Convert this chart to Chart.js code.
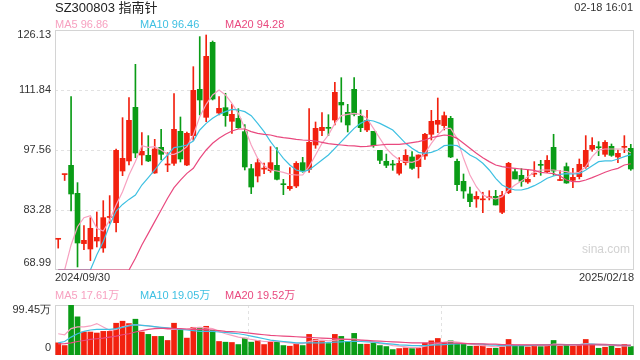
<!DOCTYPE html>
<html>
<head>
<meta charset="utf-8">
<script src="https://cdn.jsdelivr.net/npm/chart.js@4"></script>
<style>
    body { margin: 0; background: #fff; }
    #wrap { position: relative; width: 640px; height: 360px; overflow: hidden; font-family: "Liberation Sans", Arial, "Noto Sans CJK SC", sans-serif; }
    #wrap canvas { position: absolute; left: 0; }
    .txt { position: absolute; white-space: nowrap; line-height: 14px; }
</style>
</head>
<body>
<div id="wrap">
    <canvas id="priceChart" width="640" height="285" style="top:0"></canvas>
    <canvas id="volChart" width="640" height="80" style="top:280px"></canvas>
    <div class="txt" style="left:55px;top:0;font-size:13px;color:#222">SZ300803 <span style="font-family:'Noto Sans CJK SC'">指南针</span></div>
    <div class="txt" style="right:7px;top:0;font-size:11px;color:#333">02-18 16:01</div>
    <div class="txt" id="lg5" style="left:55px;top:17px;font-size:11px;color:#f7a1c0"></div>
    <div class="txt" id="lg10" style="left:140px;top:17px;font-size:11px;color:#3ec0e2"></div>
    <div class="txt" id="lg20" style="left:225px;top:17px;font-size:11px;color:#e9497f"></div>
    <div class="txt" id="vlg5" style="left:55px;top:288px;font-size:11px;color:#f7a1c0"></div>
    <div class="txt" id="vlg10" style="left:140px;top:288px;font-size:11px;color:#3ec0e2"></div>
    <div class="txt" id="vlg20" style="left:225px;top:288px;font-size:11px;color:#e9497f"></div>
    <div class="txt" style="left:582px;top:242px;font-size:12px;color:#d2d2d2">sina.com</div>
</div>
<script>
    // trading days 2024/09/30 - 2025/02/18
    const dates = [
        '2024/09/30',
        '2024/10/08', '2024/10/09', '2024/10/10', '2024/10/11', '2024/10/14', '2024/10/15', '2024/10/16', '2024/10/17', '2024/10/18',
        '2024/10/21', '2024/10/22', '2024/10/23', '2024/10/24', '2024/10/25', '2024/10/28', '2024/10/29', '2024/10/30', '2024/10/31',
        '2024/11/01', '2024/11/04', '2024/11/05', '2024/11/06', '2024/11/07', '2024/11/08', '2024/11/11', '2024/11/12', '2024/11/13',
        '2024/11/14', '2024/11/15', '2024/11/18', '2024/11/19', '2024/11/20', '2024/11/21', '2024/11/22', '2024/11/25', '2024/11/26',
        '2024/11/27', '2024/11/28', '2024/11/29',
        '2024/12/02', '2024/12/03', '2024/12/04', '2024/12/05', '2024/12/06', '2024/12/09', '2024/12/10', '2024/12/11', '2024/12/12',
        '2024/12/13', '2024/12/16', '2024/12/17', '2024/12/18', '2024/12/19', '2024/12/20', '2024/12/23', '2024/12/24', '2024/12/25',
        '2024/12/26', '2024/12/27', '2024/12/30', '2024/12/31',
        '2025/01/02', '2025/01/03', '2025/01/06', '2025/01/07', '2025/01/08', '2025/01/09', '2025/01/10', '2025/01/13', '2025/01/14',
        '2025/01/15', '2025/01/16', '2025/01/17', '2025/01/20', '2025/01/21', '2025/01/22', '2025/01/23', '2025/01/24', '2025/01/27',
        '2025/02/05', '2025/02/06', '2025/02/07', '2025/02/10', '2025/02/11', '2025/02/12', '2025/02/13', '2025/02/14', '2025/02/17',
        '2025/02/18'
    ];

    const opens = [
        76.3, 91.7, 93.91, 87.25, 75.27, 73.99, 75.9, 74.23, 81.5, 80.26,
        92.56, 94.95, 107.72, 96.37, 96.29, 92.09, 98.2, 94.0, 94.39, 102.0,
        93.99, 100.98, 112.01, 105.34, 123.2, 106.37, 107.64, 104.39, 105.1, 101.93,
        93.12, 91.37, 93.0, 92.64, 93.91, 89.45, 88.36, 88.99, 94.55, 92.96,
        98.75, 102.17, 102.8, 104.7, 108.9, 106.53, 112.01, 105.58, 102.33, 102.01,
        97.48, 94.87, 94.1, 92.01, 94.55, 95.9, 93.6, 96.13, 101.3, 103.68,
        103.36, 105.1, 94.87, 90.1, 87.09, 85.9, 85.7, 86.2, 86.53, 82.72,
        87.41, 92.4, 91.53, 89.94, 91.8, 93.95, 92.4, 98.2, 90.3, 93.6,
        90.34, 91.21, 93.6, 97.72, 98.2, 96.53, 98.44, 95.9, 98.2, 97.96
    ];
    const highs = [
        76.4, 91.8, 110.26, 89.79, 79.55, 81.45, 82.8, 85.5, 86.7, 97.8,
        105.26, 110.02, 117.96, 101.69, 100.98, 100.1, 102.48, 96.93, 110.97, 105.42,
        101.85, 117.4, 124.55, 124.94, 123.51, 110.26, 111.06, 108.44, 107.4, 103.6,
        94.15, 95.5, 94.47, 98.36, 98.12, 90.58, 93.36, 94.79, 95.82, 107.4,
        104.23, 106.45, 105.97, 113.67, 114.78, 108.44, 114.78, 107.09, 107.0, 102.01,
        97.48, 96.6, 95.1, 95.74, 97.64, 97.17, 96.4, 101.53, 107.0, 109.94,
        106.61, 105.58, 95.42, 91.85, 88.75, 87.64, 87.5, 87.88, 87.96, 87.72,
        94.63, 92.96, 93.12, 92.88, 94.79, 95.1, 96.21, 101.3, 92.64, 94.47,
        93.2, 95.42, 100.98, 100.5, 99.55, 99.79, 98.99, 97.56, 100.98, 98.91
    ];
    const lows = [
        74.2, 90.3, 83.04, 69.71, 73.84, 71.22, 74.47, 73.2, 80.1, 78.04,
        91.45, 93.99, 95.74, 93.99, 94.79, 92.0, 95.18, 92.4, 93.91, 94.71,
        93.83, 99.86, 105.9, 104.31, 109.47, 105.9, 103.2, 101.53, 102.72, 92.8,
        87.17, 89.95, 91.93, 92.25, 90.42, 86.93, 87.96, 88.6, 92.25, 92.25,
        97.96, 100.98, 100.98, 103.52, 104.2, 101.85, 105.66, 101.93, 101.93, 98.2,
        94.31, 93.36, 92.72, 91.61, 93.99, 92.96, 90.9, 95.34, 99.94, 101.69,
        102.33, 95.74, 87.88, 86.05, 84.07, 83.91, 82.64, 85.66, 84.47, 82.4,
        87.17, 90.66, 88.91, 89.62, 91.2, 91.53, 92.17, 91.53, 90.25, 89.62,
        88.6, 90.66, 93.2, 97.25, 96.21, 96.05, 96.05, 94.55, 96.93, 92.72
    ];
    const closes = [
        76.4, 91.8, 87.09, 75.42, 76.06, 78.91, 76.77, 81.45, 81.6, 97.48,
        95.58, 104.63, 96.85, 97.25, 94.95, 97.8, 96.53, 94.1, 102.48, 95.42,
        101.53, 111.77, 109.47, 119.86, 109.7, 107.48, 105.74, 106.05, 102.88, 93.52,
        88.75, 94.55, 93.12, 94.55, 90.58, 89.3, 88.91, 94.39, 92.56, 99.39,
        102.72, 102.96, 102.72, 111.29, 108.28, 103.52, 106.05, 102.88, 104.63, 98.6,
        95.1, 93.91, 93.99, 94.39, 96.29, 93.2, 96.37, 101.3, 104.39, 104.63,
        105.74, 95.9, 89.31, 87.8, 85.26, 86.53, 85.8, 86.3, 84.47, 86.77,
        94.39, 90.66, 90.1, 90.58, 91.93, 93.91, 95.1, 92.56, 90.4, 89.7,
        91.05, 94.15, 97.48, 98.67, 98.1, 99.39, 96.29, 96.77, 98.28, 93.04
    ];

    const ma5 = [
        68.99, 69.0, 74.95, 79.3, 81.45, 81.93, 78.9, 78.28, 80.9, 84.47,
        87.6, 91.6, 94.8, 98.6, 98.2, 98.36, 97.56, 96.53, 96.53, 97.17,
        98.36, 101.13, 105.5, 108.44, 110.66, 111.85, 110.66, 108.67, 106.29, 102.72,
        98.75, 95.58, 93.83, 92.8, 92.56, 92.25, 91.77, 91.61, 91.61, 93.6,
        96.37, 99.15, 101.13, 103.9, 105.74, 106.05, 106.29, 106.05, 105.1, 102.72,
        100.34, 97.96, 96.37, 95.18, 94.79, 94.63, 95.18, 96.77, 99.15, 101.13,
        102.72, 102.72, 100.34, 95.58, 91.61, 88.83, 86.85, 86.21, 85.9, 86.45,
        88.04, 89.23, 90.18, 91.21, 92.25, 92.8, 92.8, 92.8, 92.56, 92.4,
        92.0, 92.25, 93.6, 95.98, 97.56, 97.8, 97.8, 97.8, 97.8, 96.86
    ];
    const ma10 = [
        68.99, 68.99, 68.99, 68.99, 68.99, 68.99, 72.6, 75.74, 79.7, 83.04,
        84.6, 85.8, 86.85, 89.23, 90.98, 92.8, 94.79, 96.37, 98.12, 98.36,
        98.75, 99.7, 102.33, 103.9, 105.1, 106.05, 106.69, 107.24, 107.09, 106.69,
        105.74, 103.9, 101.93, 99.55, 97.56, 95.58, 93.99, 92.8, 92.4, 92.8,
        93.99, 95.18, 96.37, 97.96, 99.55, 101.13, 102.72, 103.9, 104.7, 104.47,
        103.9, 103.12, 102.33, 100.74, 99.15, 97.96, 97.01, 96.77, 97.01, 97.56,
        98.6, 98.75, 98.6, 97.56, 96.37, 95.58, 94.39, 92.8, 90.82, 89.23,
        88.44, 88.04, 88.04, 88.44, 89.07, 89.86, 90.82, 91.37, 91.77, 91.93,
        91.85, 91.93, 92.8, 93.83, 94.79, 94.95, 94.95, 95.42, 95.98, 96.46
    ];
    const ma20 = [
        68.99, 68.99, 68.99, 68.99, 68.99, 68.99, 68.99, 68.99, 68.99, 68.99,
        68.99, 68.99, 71.77, 74.95, 77.7, 80.5, 83.28, 86.06, 88.6, 90.4,
        92.0, 93.2, 95.58, 97.56, 99.15, 100.34, 101.3, 102.09, 102.56, 102.56,
        101.93, 101.53, 101.3, 101.13, 100.74, 100.5, 100.34, 100.1, 99.94, 99.86,
        99.7, 99.39, 99.07, 98.91, 98.75, 98.6, 98.52, 98.36, 98.44, 98.6,
        98.75, 98.91, 98.91, 98.91, 99.07, 99.31, 99.55, 99.94, 100.5, 100.82,
        101.13, 100.97, 100.34, 99.15, 97.96, 96.77, 95.74, 94.79, 93.99, 93.6,
        93.36, 93.2, 93.04, 92.88, 92.72, 92.25, 92.09, 91.93, 91.37, 90.42,
        90.02, 90.02, 90.42, 90.98, 91.61, 92.25, 92.8, 93.2, 93.99, 94.28
    ];

    // volume in 万
    const volumes = [
        24.2, 18.8, 99.45, 75.9, 45.7, 45.7, 43.7, 47.0, 47.0, 63.2,
        67.2, 62.5, 71.2, 45.7, 41.0, 37.0, 37.0, 28.9, 63.2, 49.7,
        33.6, 55.1, 55.1, 57.1, 49.1, 26.9, 25.5, 24.9, 20.8, 33.6,
        25.5, 28.9, 20.8, 26.9, 25.5, 18.8, 17.5, 21.5, 18.8, 41.0,
        30.9, 26.9, 22.8, 41.0, 37.0, 26.9, 43.0, 21.5, 21.5, 23.5,
        18.8, 16.8, 10.8, 12.8, 14.1, 12.8, 13.4, 23.5, 28.2, 32.9,
        24.2, 28.2, 23.5, 22.2, 17.5, 17.5, 19.5, 13.4, 13.4, 16.1,
        30.9, 18.8, 18.8, 16.1, 18.8, 16.8, 18.8, 28.9, 17.5, 18.8,
        17.5, 18.8, 30.9, 21.5, 13.4, 15.5, 17.5, 13.4, 20.8, 16.8
    ];
    const volMa5 = [
        42.3, 40.3, 52.4, 55.8, 55.8, 57.8, 62.5, 55.8, 49.1, 51.1,
        55.8, 59.1, 60.5, 59.1, 57.8, 55.8, 53.8, 51.1, 51.1, 51.1,
        51.1, 53.8, 55.1, 53.8, 52.4, 47.0, 42.3, 39.0, 35.6, 33.6,
        30.9, 28.9, 26.9, 26.9, 26.9, 25.5, 24.2, 22.8, 22.8, 26.9,
        28.9, 29.6, 28.2, 29.6, 30.9, 30.9, 32.3, 29.6, 28.2, 25.5,
        22.8, 21.5, 18.8, 17.5, 16.1, 14.8, 14.8, 17.5, 20.2, 22.8,
        25.5, 26.9, 25.5, 24.2, 21.5, 20.2, 18.8, 17.5, 16.1, 17.5,
        20.2, 20.2, 20.2, 20.2, 18.8, 18.8, 18.8, 21.5, 21.5, 20.8,
        20.2, 20.8, 22.8, 22.2, 22.2, 21.5, 20.2, 17.5, 18.8, 17.61
    ];
    const volMa10 = [
        24.2, 26.9, 35.6, 42.3, 47.0, 49.7, 51.1, 51.1, 51.1, 52.4,
        55.1, 57.8, 60.5, 59.1, 57.8, 56.4, 55.1, 53.8, 52.4, 51.1,
        49.7, 48.4, 47.0, 47.0, 47.0, 45.7, 45.0, 43.7, 42.3, 40.3,
        37.6, 34.9, 32.3, 29.6, 28.2, 26.9, 25.5, 24.2, 24.2, 24.2,
        24.2, 24.2, 24.9, 25.5, 26.2, 26.9, 26.9, 26.9, 26.2, 25.5,
        24.2, 22.8, 21.5, 20.2, 19.5, 18.8, 18.8, 18.8, 19.5, 20.2,
        20.8, 21.5, 22.2, 22.8, 22.8, 22.2, 21.5, 20.2, 19.5, 18.8,
        18.8, 18.8, 18.8, 18.8, 19.5, 20.2, 20.2, 20.8, 20.8, 20.8,
        20.8, 20.8, 21.5, 21.5, 20.8, 20.2, 20.2, 19.5, 18.8, 19.05
    ];
    const volMa20 = [
        22.2, 22.8, 24.2, 26.9, 28.9, 30.9, 32.3, 33.6, 35.6, 37.6,
        40.3, 42.3, 45.7, 48.4, 51.1, 52.4, 53.1, 53.1, 52.4, 52.4,
        51.7, 51.1, 51.1, 50.4, 49.7, 48.4, 47.0, 46.4, 45.7, 44.4,
        43.0, 41.7, 40.3, 39.0, 38.3, 37.6, 37.0, 36.3, 35.6, 34.9,
        34.3, 33.6, 32.9, 32.3, 31.6, 30.9, 30.2, 29.6, 28.9, 28.2,
        27.6, 26.9, 26.2, 25.5, 24.9, 24.2, 24.2, 24.2, 24.2, 24.2,
        24.2, 23.5, 23.5, 22.8, 22.8, 22.2, 22.2, 21.5, 21.5, 20.8,
        20.8, 20.2, 20.2, 20.2, 20.2, 20.2, 20.2, 20.2, 20.2, 20.2,
        20.2, 20.2, 20.2, 20.2, 20.2, 20.2, 20.2, 19.5, 19.5, 19.52
    ];

    const priceTicks = [126.13, 111.84, 97.56, 83.28, 68.99];
    const volTicks = [99.45, 0];

    const UP = '#f2210f';
    const DOWN = '#0a9c16';
    const C5 = '#f7a1c0';
    const C10 = '#3ec0e2';
    const C20 = '#e9497f';
    const LABEL_FONT = '11px "Liberation Sans", Arial, sans-serif';

    const candleColors = closes.map(function (c, i) { return c >= opens[i] ? UP : DOWN; });

    const last = function (arr) { return arr[arr.length - 1].toFixed(2); };
    document.getElementById('lg5').textContent = 'MA5 ' + last(ma5);
    document.getElementById('lg10').textContent = 'MA10 ' + last(ma10);
    document.getElementById('lg20').textContent = 'MA20 ' + last(ma20);
    document.getElementById('vlg5').textContent = 'MA5 ' + last(volMa5) + '万';
    document.getElementById('vlg10').textContent = 'MA10 ' + last(volMa10) + '万';
    document.getElementById('vlg20').textContent = 'MA20 ' + last(volMa20) + '万';

    // grid, frame and axis labels
    const framePlugin = {
        id: 'frame',
        beforeDatasetsDraw(chart, args, opts) {
            const ctx = chart.ctx;
            const a = chart.chartArea;
            const y = chart.scales.y;
            ctx.save();
            ctx.lineWidth = 1;
            ctx.strokeStyle = '#e2e2e2';
            ctx.setLineDash([3, 3]);
            opts.ticks.forEach(function (v) {
                const py = Math.round(y.getPixelForValue(v)) + 0.5;
                if (py < a.top + 2 || py > a.bottom - 2) {
                    return;
                }
                ctx.beginPath();
                ctx.moveTo(a.left, py);
                ctx.lineTo(a.right, py);
                ctx.stroke();
            });
            if (opts.vSplit) {
                for (let k = 1; k < opts.vSplit; k++) {
                    const px = Math.round(a.left + (a.right - a.left) * k / opts.vSplit) + 0.5;
                    ctx.beginPath();
                    ctx.moveTo(px, a.top);
                    ctx.lineTo(px, a.bottom);
                    ctx.stroke();
                }
            }
            ctx.setLineDash([]);
            ctx.strokeStyle = '#d4d4d4';
            ctx.strokeRect(a.left + 0.5, a.top + 0.5, a.right - a.left - 1, a.bottom - a.top - 1);
            ctx.restore();
        },
        afterDraw(chart, args, opts) {
            const ctx = chart.ctx;
            const a = chart.chartArea;
            const y = chart.scales.y;
            ctx.save();
            ctx.font = LABEL_FONT;
            ctx.fillStyle = '#333';
            ctx.textAlign = 'right';
            ctx.textBaseline = 'middle';
            opts.ticks.forEach(function (v) {
                let py = y.getPixelForValue(v);
                py = Math.max(a.top + 5, Math.min(a.bottom - 7, py));
                ctx.fillText(opts.format(v), a.left - 4, py);
            });
            if (opts.dateLabels) {
                const labels = chart.data.labels;
                ctx.textBaseline = 'middle';
                ctx.textAlign = 'left';
                ctx.fillText(labels[0], a.left, a.bottom + 8);
                ctx.textAlign = 'right';
                ctx.fillText(labels[labels.length - 1], a.right, a.bottom + 8);
            }
            ctx.restore();
        }
    };

    function maLine(data, color) {
        return {
            type: 'line',
            data: data,
            borderColor: color,
            borderWidth: 1.2,
            pointRadius: 0,
            tension: 0,
            order: 0
        };
    }

    new Chart(document.getElementById('priceChart'), {
        type: 'bar',
        data: {
            labels: dates,
            datasets: [
                {
                    data: lows.map(function (l, i) { return [l, highs[i]]; }),
                    backgroundColor: candleColors,
                    barThickness: 1,
                    grouped: false,
                    borderSkipped: false,
                    order: 2
                },
                {
                    data: opens.map(function (o, i) { return [o, closes[i]]; }),
                    backgroundColor: candleColors,
                    barThickness: 5,
                    minBarLength: 1,
                    grouped: false,
                    borderSkipped: false,
                    order: 1
                },
                maLine(ma20, C20),
                maLine(ma10, C10),
                maLine(ma5, C5)
            ]
        },
        options: {
            responsive: false,
            animation: false,
            events: [],
            layout: { padding: { left: 55, right: 6, top: 30, bottom: 15 } },
            scales: {
                x: { display: false, offset: true },
                y: { display: false, min: 68.99, max: 126.13 }
            },
            plugins: {
                legend: { display: false },
                tooltip: { enabled: false },
                frame: {
                    ticks: priceTicks,
                    dateLabels: true,
                    format: function (v) { return v.toFixed(2); }
                }
            }
        },
        plugins: [framePlugin]
    });

    new Chart(document.getElementById('volChart'), {
        type: 'bar',
        data: {
            labels: dates,
            datasets: [
                {
                    data: volumes,
                    backgroundColor: candleColors,
                    barThickness: 5,
                    grouped: false,
                    order: 1
                },
                maLine(volMa20, C20),
                maLine(volMa10, C10),
                maLine(volMa5, C5)
            ]
        },
        options: {
            responsive: false,
            animation: false,
            events: [],
            layout: { padding: { left: 55, right: 6, top: 25, bottom: 5 } },
            scales: {
                x: { display: false, offset: true },
                y: { display: false, min: 0, max: 99.45 }
            },
            plugins: {
                legend: { display: false },
                tooltip: { enabled: false },
                frame: {
                    ticks: volTicks,
                    vSplit: 3,
                    format: function (v) { return v === 0 ? '0' : v.toFixed(2) + '万'; }
                }
            }
        },
        plugins: [framePlugin]
    });
</script>
</body>
</html>
